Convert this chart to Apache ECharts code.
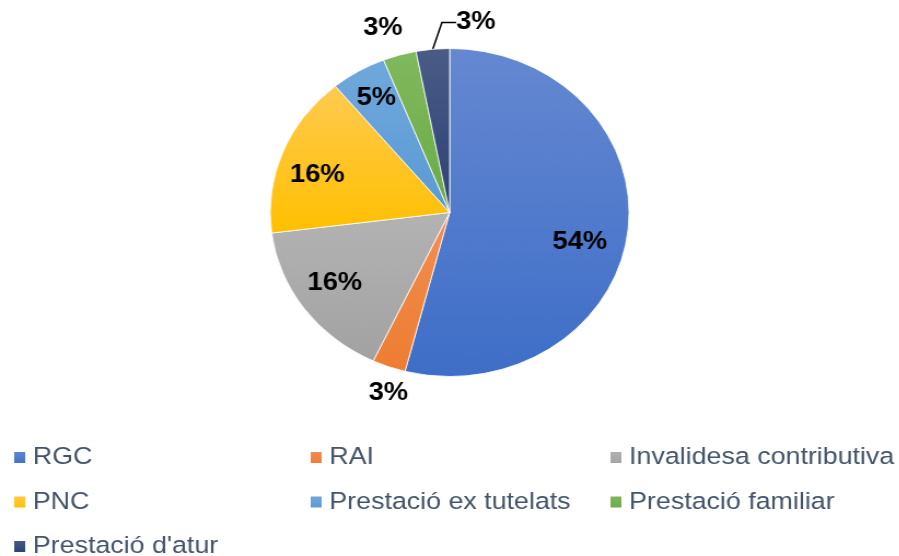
<!DOCTYPE html>
<html>
<head>
<meta charset="utf-8">
<script src="https://cdn.jsdelivr.net/npm/echarts@6/dist/echarts.min.js"></script>
<style>
  html, body { margin: 0; padding: 0; background: #fff; overflow: hidden; }
  /* the source picture is stretched horizontally, so is this one */
  #chart { width: 822px; height: 556px; transform: scaleX(1.094); transform-origin: 0 0; }
</style>
</head>
<body>
<div id="chart"></div>
<script>
// dades
const categories = ['RGC', 'RAI', 'Invalidesa contributiva', 'PNC', 'Prestació ex tutelats', 'Prestació familiar', "Prestació d'atur"]
const shares = [54, 3, 16, 16, 5, 3, 3]

// columnes de la llegenda
const legendCols = [
  ['RGC', 'PNC', "Prestació d'atur"],
  ['RAI', 'Prestació ex tutelats'],
  ['Invalidesa contributiva', 'Prestació familiar']
]

// colors (dalt -> baix del degradat)
const topColors = ['#6588D1', '#F38E52', '#B3B3B3', '#FFCA50', '#70A8DC', '#80B95E', '#4B5B86']
const baseColors = ['#3E6EC8', '#ED7D31', '#A2A2A2', '#FFC000', '#5A9AD5', '#6BAA45', '#2B4275']

const center = [411, 212.5]
const radius = 164
// posició de cada etiqueta respecte del centre del pastís
const labelOffsets = [[119, 29.5], [-56, 180.5], [-105, 70.5], [-121, -37.5], [-67, -114.5], [-61, -184.5], [24, -190]]

const chart = echarts.init(document.getElementById('chart'))

const legendBase = {
  orient: 'vertical',
  top: 445,
  height: 200,
  padding: 0,
  icon: 'rect',
  itemWidth: 12,
  itemHeight: 13,
  itemGap: 19.5,
  selectedMode: false,
  textStyle: { fontFamily: 'Liberation Sans, Arial', fontSize: 24.5, lineHeight: 24, color: '#44546A', padding: [0, 0, 0, 1] }
}

const options = {
  backgroundColor: '#fff',
  animation: false,
  legend: [
    { ...legendBase, left: 11, data: legendCols[0] },
    { ...legendBase, left: 282, data: legendCols[1] },
    { ...legendBase, left: 556, data: legendCols[2] }
  ],
  series: [
    {
      type: 'pie',
      center: center,
      radius: radius,
      startAngle: 90,
      clockwise: true,
      avoidLabelOverlap: false,
      percentPrecision: 0,
      itemStyle: { borderColor: '#fff', borderWidth: 0.8 },
      label: {
        show: true,
        position: 'outside',
        formatter: '{d}%',
        fontFamily: 'Liberation Sans, Arial',
        fontWeight: 'bold',
        fontSize: 25,
        color: '#000'
      },
      labelLine: { show: false },
      labelLayout: function (params) {
        const off = labelOffsets[params.dataIndex]
        return {
          x: center[0] + off[0],
          y: center[1] + off[1],
          align: 'center',
          verticalAlign: 'middle'
        }
      },
      data: categories.map((name, i) => ({
        name: name,
        value: shares[i],
        itemStyle: {
          color: new echarts.graphic.LinearGradient(0, 0, 0, 1, [
            { offset: 0, color: topColors[i] },
            { offset: 1, color: baseColors[i] }
          ])
        },
        labelLine: i === 6
          ? { show: true, length: 10, length2: 13, lineStyle: { color: '#000', width: 1.5 } }
          : { show: false }
      }))
    }
  ]
}

chart.setOption(options)
</script>
</body>
</html>
